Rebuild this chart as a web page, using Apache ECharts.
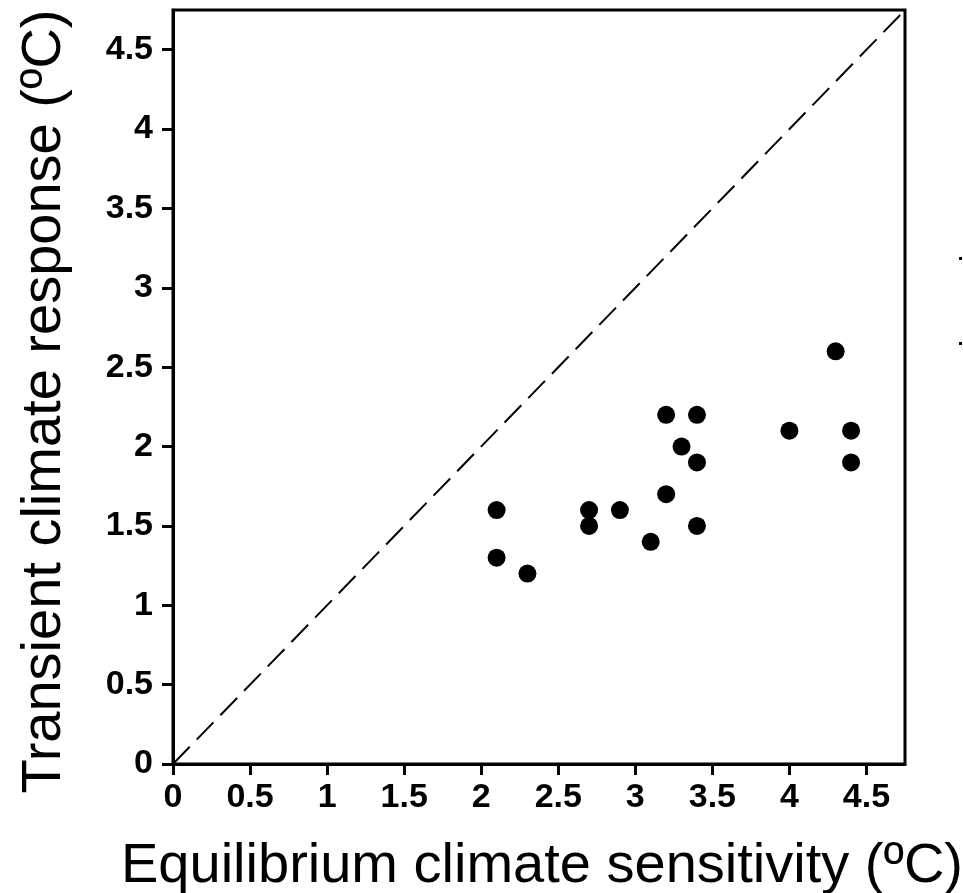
<!DOCTYPE html>
<html>
<head>
<meta charset="utf-8">
<script src="https://cdn.jsdelivr.net/npm/echarts@6/dist/echarts.min.js"></script>
<style>
html,body{margin:0;padding:0;background:#fff;}
#chart{width:963px;height:893px;}
</style>
</head>
<body>
<div id="chart"></div>
<script>
// Data
const ecs = [2.1, 2.1, 2.3, 2.7, 2.7, 2.9, 3.1, 3.2, 3.2, 3.3, 3.4, 3.4, 3.4, 4.0, 4.3, 4.4, 4.4];
const tcr = [1.6, 1.3, 1.2, 1.6, 1.5, 1.6, 1.4, 2.2, 1.7, 2.0, 2.2, 1.9, 1.5, 2.1, 2.6, 2.1, 1.9];
const tickValues = [0, 0.5, 1, 1.5, 2, 2.5, 3, 3.5, 4, 4.5];
const axisMin = 0;
const axisMax = 4.75;
const diagX = [0, 4.75];
const diagY = [0, 4.75];
const xTitle = 'Equilibrium climate sensitivity (\u00baC)';
const yTitle = 'Transient climate response (\u00baC)';

const points = ecs.map((x, i) => [x, tcr[i]]);
const diag = diagX.map((x, i) => [x, diagY[i]]);

const tickFont = {fontFamily: 'Liberation Sans', fontWeight: 'bold', fontSize: 34, color: '#000'};

const chart = echarts.init(document.getElementById('chart'), null, {renderer: 'canvas'});
chart.setOption({
  animation: false,
  backgroundColor: '#fff',
  grid: {left: 173, right: 58, top: 10, bottom: 129, containLabel: false, outerBoundsMode: 'none',
    show: true, borderColor: '#000', borderWidth: 3, backgroundColor: 'transparent'},
  xAxis: {
    type: 'value', min: axisMin, max: axisMax, interval: 0.5,
    name: xTitle, nameLocation: 'middle', nameGap: 75,
    nameTextStyle: {fontFamily: 'Liberation Sans', fontSize: 56, color: '#000', padding: [0, 0, 0, 6]},
    axisLine: {show: true, lineStyle: {color: '#000', width: 3}},
    axisTick: {show: true, length: 11, lineStyle: {color: '#000', width: 3}, customValues: tickValues},
    axisLabel: Object.assign({margin: 17, customValues: tickValues, formatter: v => String(v)}, tickFont),
    splitLine: {show: false}
  },
  yAxis: {
    type: 'value', min: axisMin, max: axisMax, interval: 0.5,
    name: yTitle, nameLocation: 'middle', nameGap: 100, nameRotate: 90,
    nameTextStyle: {fontFamily: 'Liberation Sans', fontSize: 56, color: '#000', padding: [0, 29, 0, 0]},
    axisLine: {show: true, lineStyle: {color: '#000', width: 3}},
    axisTick: {show: true, length: 11, lineStyle: {color: '#000', width: 3}, customValues: tickValues},
    axisLabel: Object.assign({margin: 20, customValues: tickValues, formatter: v => String(v)}, tickFont),
    splitLine: {show: false}
  },
  series: [
    {
      type: 'line', data: diag, symbol: 'none', silent: true,
      lineStyle: {color: '#000', width: 2, type: [24, 10]}
    },
    {
      type: 'scatter', data: points, symbol: 'circle', symbolSize: 18,
      itemStyle: {color: '#000', opacity: 1}
    }
  ],
  graphic: [
    {type: 'rect', shape: {x: 959, y: 257, width: 3, height: 3}, style: {fill: '#000'}},
    {type: 'rect', shape: {x: 959, y: 342, width: 3, height: 3}, style: {fill: '#000'}}
  ]
});
</script>
</body>
</html>
